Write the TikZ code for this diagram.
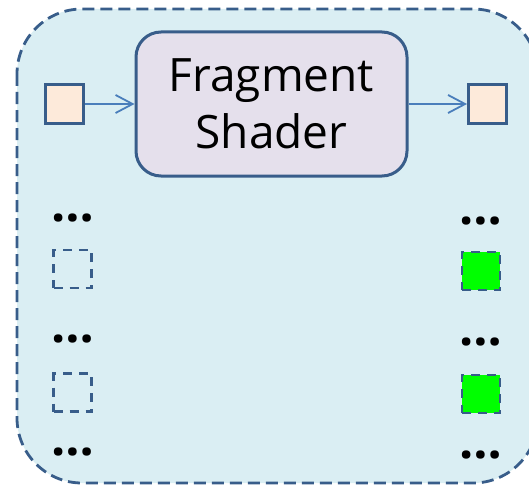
\documentclass[tikz,border=0pt]{standalone}
\usepackage{fontspec}
\setmainfont{Open Sans}
\usetikzlibrary{arrows.meta}
\definecolor{bgfill}{HTML}{DAEEF3}
\definecolor{bdblue}{HTML}{385D8A}
\definecolor{sqfill}{HTML}{FDEADA}
\definecolor{shfill}{HTML}{E5E0EC}
\definecolor{arrblue}{HTML}{4A7EBB}
\definecolor{brightgreen}{HTML}{00FF00}
\tikzset{
  outerbox/.style={draw=bdblue, fill=bgfill, line width=2.8pt, dash pattern=on 12pt off 6pt, rounded corners=65pt},
  solidsq/.style={draw=bdblue, fill=sqfill, line width=3pt, minimum size=38pt, inner sep=0pt},
  dashsq/.style={draw=bdblue, line width=2.5pt, dash pattern=on 9pt off 7pt, minimum size=38pt, inner sep=0pt},
  greensq/.style={dashsq, fill=brightgreen},
  shaderbox/.style={draw=bdblue, fill=shfill, line width=3pt, rounded corners=25pt, minimum width=271pt, minimum height=144pt, inner sep=0pt, align=center, font=\fontsize{46}{57}\selectfont},
  flow/.style={draw=arrblue, line width=1.8pt, -{Straight Barb[length=17pt,width=18pt]}},
  dotsnode/.style={anchor=base, inner sep=0pt, font=\fontsize{50}{57}\selectfont\bfseries}
}
\begin{document}
\begin{tikzpicture}[x=1pt,y=-1pt]
\useasboundingbox (0,0) rectangle (529,484);
\draw[outerbox] (17,9) rectangle (538,483);
\node[shaderbox] (fs) at (271.5,104) {Fragment\\Shader};
\node[solidsq] (in) at (64.5,104) {};
\node[solidsq] (out) at (487.5,104) {};
\draw[flow] (in.east) -- (fs.west);
\draw[flow] (fs.east) -- (out.west);
\node[dashsq] (l1) at (72.5,269) {};
\node[dashsq] (l2) at (72.5,392.5) {};
\node[greensq] (r1) at (481,271) {};
\node[greensq] (r2) at (481,394) {};
\node[dotsnode] (ld1) at (72.7,221) {…};
\node[dotsnode] (ld2) at (72.7,342) {…};
\node[dotsnode] (ld3) at (72.7,455.5) {…};
\node[dotsnode] (rd1) at (481,224) {…};
\node[dotsnode] (rd2) at (481,345) {…};
\node[dotsnode] (rd3) at (481,458) {…};
\end{tikzpicture}
\end{document}
